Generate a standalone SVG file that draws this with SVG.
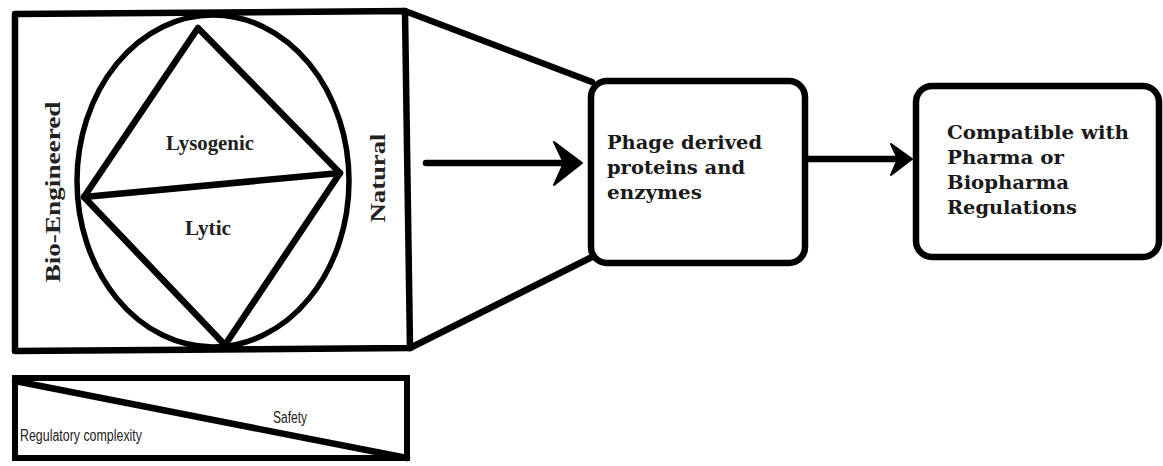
<svg xmlns="http://www.w3.org/2000/svg" width="1163" height="466" viewBox="0 0 1163 466">
<style>
.ln{fill:none;stroke:#000;stroke-width:6.5;stroke-linecap:round;stroke-linejoin:round}
.thin{fill:none;stroke:#000;stroke-width:5.5}
.box{fill:#fff;stroke:#000;stroke-width:6.5}
.bt{font-family:"DejaVu Serif",serif;font-weight:bold;font-size:18.5px;fill:#1a1a1a}
.lb{font-family:"Liberation Serif",serif;font-weight:bold;font-size:20px;fill:#222}
.sm{font-family:"Liberation Sans Narrow","Liberation Sans",sans-serif;font-size:16px;fill:#222}
</style>
<rect width="1163" height="466" fill="#fff"/>
<g id="phage-square">
<path class="ln" d="M15,14 L405,11 L410,348 L15,351 Z"/>
<ellipse class="thin" cx="213" cy="181" rx="136" ry="166"/>
<path class="ln" d="M198,28 L340,173 L225,345 L84,197 Z"/>
<path class="ln" d="M84,197 L340,173"/>
<text class="lb" x="210" y="150" text-anchor="middle" textLength="88" lengthAdjust="spacingAndGlyphs">Lysogenic</text>
<text class="lb" x="208" y="235" text-anchor="middle" textLength="46" lengthAdjust="spacingAndGlyphs">Lytic</text>
<text class="lb" transform="translate(60,192) rotate(-90)" text-anchor="middle" textLength="181" lengthAdjust="spacingAndGlyphs">Bio-Engineered</text>
<text class="lb" transform="translate(385,178) rotate(-90)" text-anchor="middle" textLength="89" lengthAdjust="spacingAndGlyphs">Natural</text>
</g>
<g id="scale-box">
<rect x="15" y="378" width="392" height="80" fill="none" stroke="#000" stroke-width="6"/>
<path class="ln" d="M15,381 L407,458"/>
<text class="sm" x="290" y="423" text-anchor="middle" textLength="34" lengthAdjust="spacingAndGlyphs">Safety</text>
<text class="sm" x="20" y="441" textLength="122" lengthAdjust="spacingAndGlyphs">Regulatory complexity</text>
</g>
<g id="connectors">
<path class="ln" d="M405,11 L592,82"/>
<path class="ln" d="M410,348 L592,257"/>
<path class="ln" d="M426,163 L570,163"/>
<path d="M554,142 L582,163 L554,185 L564,163 Z" fill="#000" stroke="#000" stroke-width="2" stroke-linejoin="round"/>
<path class="ln" d="M807,159 L900,159"/>
<path d="M891,144 L912,159 L891,175 L898,159 Z" fill="#000" stroke="#000" stroke-width="2" stroke-linejoin="round"/>
</g>
<g id="node-phage-proteins">
<rect class="box" x="591" y="81" width="214" height="182" rx="16"/>
<text class="bt" x="607" y="149" textLength="155" lengthAdjust="spacingAndGlyphs">Phage derived</text>
<text class="bt" x="607" y="174" textLength="138" lengthAdjust="spacingAndGlyphs">proteins and</text>
<text class="bt" x="607" y="199" textLength="95" lengthAdjust="spacingAndGlyphs">enzymes</text>
</g>
<g id="node-compatible">
<rect class="box" x="916" y="86" width="243" height="171" rx="16"/>
<text class="bt" x="947" y="139" textLength="182" lengthAdjust="spacingAndGlyphs">Compatible with</text>
<text class="bt" x="947" y="164" textLength="117" lengthAdjust="spacingAndGlyphs">Pharma or</text>
<text class="bt" x="947" y="189" textLength="122" lengthAdjust="spacingAndGlyphs">Biopharma</text>
<text class="bt" x="947" y="214" textLength="130" lengthAdjust="spacingAndGlyphs">Regulations</text>
</g>
</svg>
